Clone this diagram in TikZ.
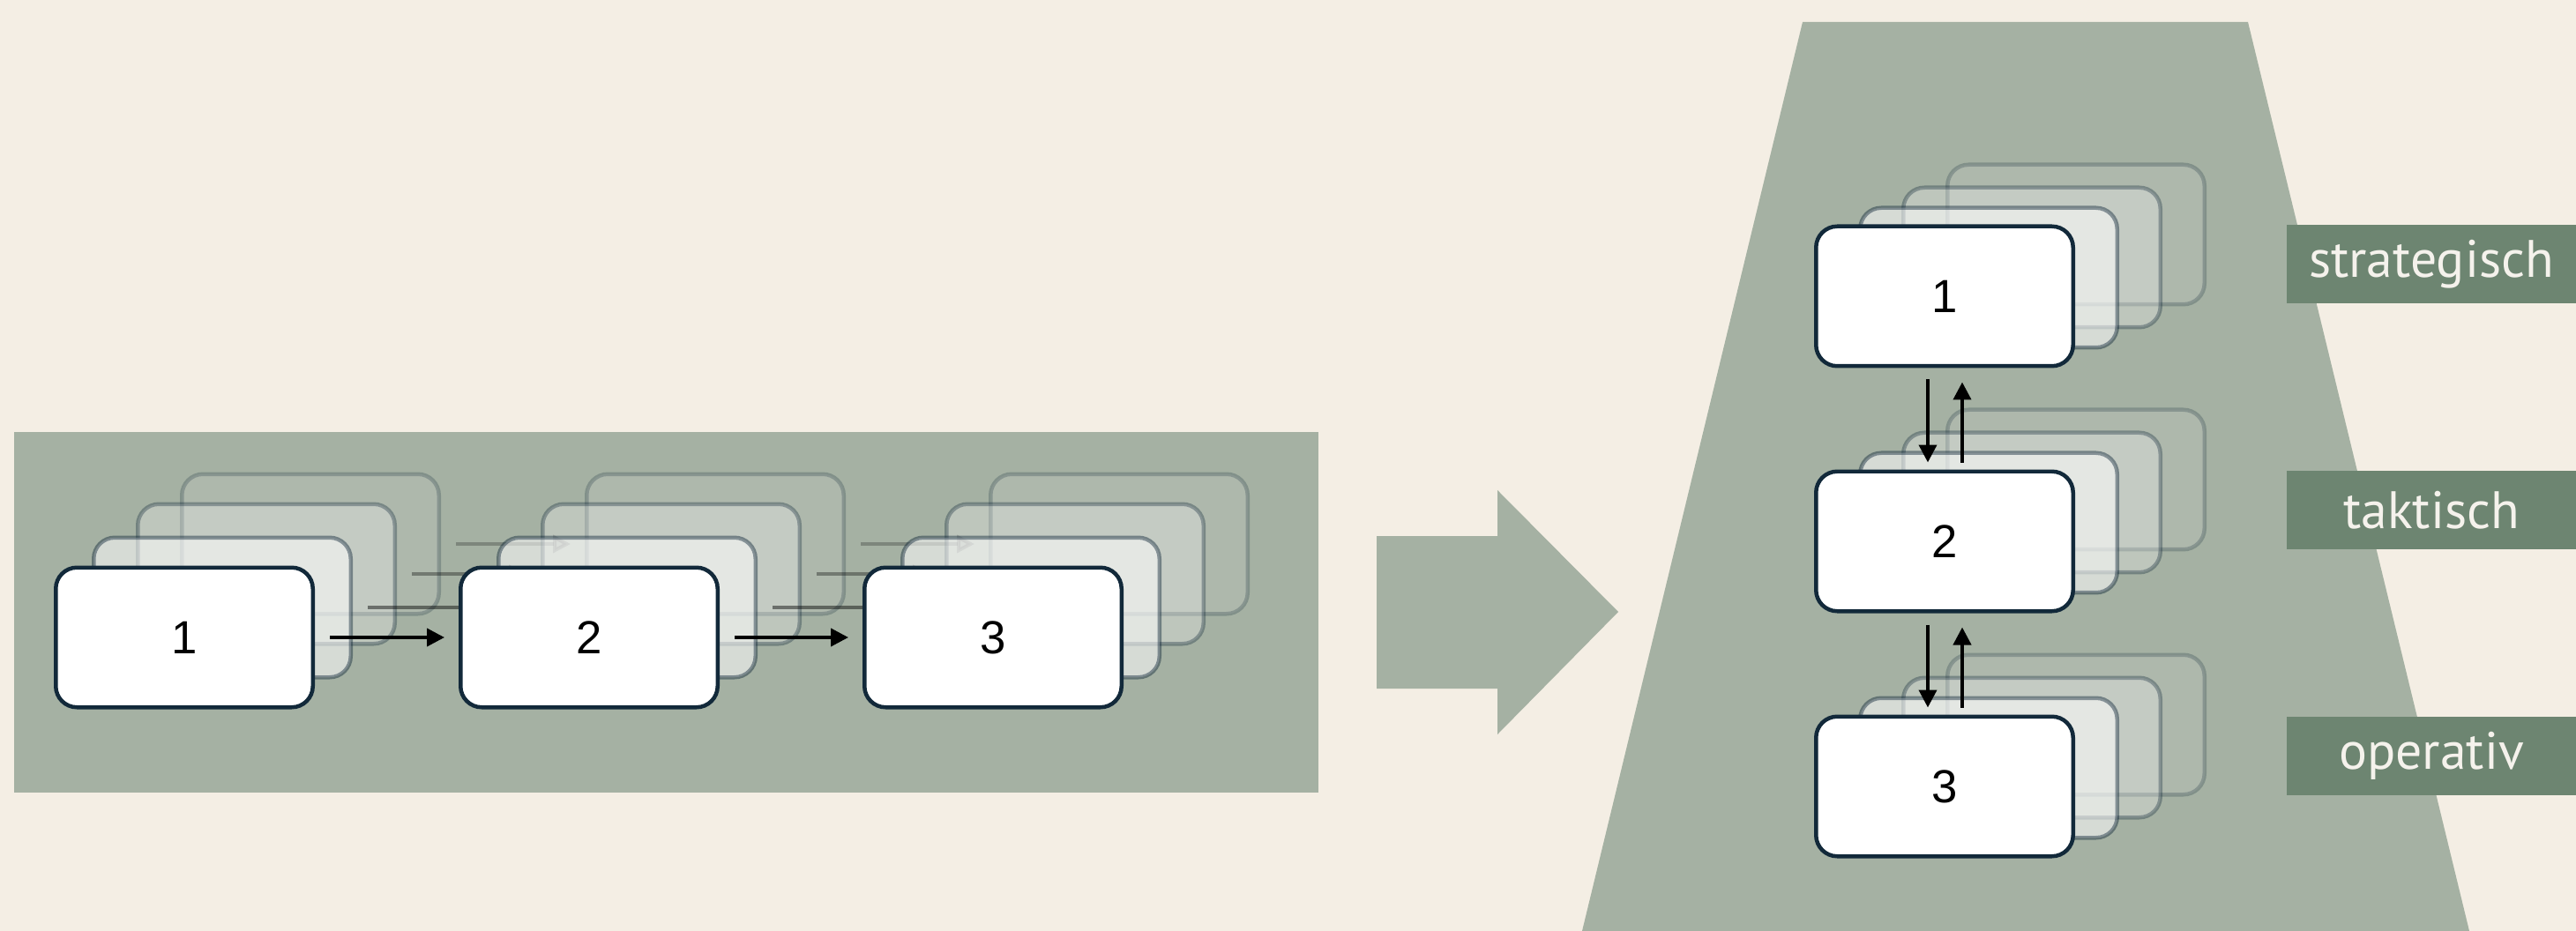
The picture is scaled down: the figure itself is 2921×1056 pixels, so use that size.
\documentclass[tikz,border=0pt]{standalone}
\usepackage{fontspec}
\setmainfont{Liberation Sans}
\newfontfamily\tagfont{PT Sans}
\definecolor{mCream}{HTML}{F4EEE4}
\definecolor{mSage}{HTML}{A5B1A3}
\definecolor{mMoss}{HTML}{6D8571}
\definecolor{mNavy}{HTML}{12293A}
\definecolor{mSnow}{HTML}{F5F2EC}
\usetikzlibrary{arrows.meta, positioning}

\begin{document}
\begin{tikzpicture}[x=0.1mm, y=-0.1mm,
    card/.style={draw=mNavy, fill=white, line width=0.45mm, rounded corners=2.4mm,
      minimum width=29.15mm, minimum height=15.85mm, inner sep=0pt,
      font=\fontsize{15}{18}\selectfont},
    flow/.style={-{Triangle[length=2mm, width=2mm]}, line width=0.4mm, black},
    tag/.style={fill=mMoss, text=mSnow, minimum width=32.8mm, minimum height=8.9mm,
      inner sep=0pt, font=\tagfont\fontsize{17}{20}\selectfont}]
  \useasboundingbox (0,0) rectangle (2921,1056);
  \fill[mCream] (0,0) rectangle (2921,1056);

  % left: sequential chain, stacked
  \fill[mSage] (16,490) rectangle (1495,899);
  \foreach \dx/\dy/\fo/\do in {143/-106/0.10/0.24, 93/-72/0.28/0.34, 43/-34/0.55/0.45} {
    \begin{scope}[shift={(\dx,\dy)}, fill opacity=\fo, draw opacity=\do]
      \node[card] (g1) at (209,723) {};
      \node[card] (g2) at (668,723) {};
      \node[card] (g3) at (1126,723) {};
      \draw[flow, shorten <=1.7mm, shorten >=1.6mm] (g1) -- (g2);
      \draw[flow, shorten <=1.7mm, shorten >=1.6mm] (g2) -- (g3);
    \end{scope}
  }
  \node[card] (l1) at (209,723) {1};
  \node[card] (l2) at (668,723) {2};
  \node[card] (l3) at (1126,723) {3};
  \draw[flow, shorten <=1.7mm, shorten >=1.6mm] (l1) -- (l2);
  \draw[flow, shorten <=1.7mm, shorten >=1.6mm] (l2) -- (l3);

  % block arrow
  \fill[mSage] (1561,608) -- (1698,608) -- (1698,556) -- (1835,694)
    -- (1698,833) -- (1698,781) -- (1561,781) -- cycle;

  % right: levels
  \fill[mSage] (2044,25) -- (2549,25) -- (2800,1056) -- (1794,1056) -- cycle;
  \foreach \dx/\dy/\fo/\do in {149/-70/0.10/0.24, 99/-44/0.28/0.34, 50/-21/0.55/0.45} {
    \begin{scope}[shift={(\dx,\dy)}, fill opacity=\fo, draw opacity=\do]
      \foreach \k/\y in {1/336, 2/614, 3/892}
        \node[card] (h\k) at (2205,\y) {};
    \end{scope}
  }
  \node[card] (r1) at (2205,336) {1};
  \node[card] (r2) at (2205,614) {2};
  \node[card] (r3) at (2205,892) {3};
  \draw[flow, shorten <=1.3mm, shorten >=0.8mm] ([xshift=-1.9mm]r1.south) -- ([xshift=-1.9mm]r2.north);
  \draw[flow, shorten <=0.8mm, shorten >=1.6mm] ([xshift=2mm]r2.north) -- ([xshift=2mm]r1.south);
  \draw[flow, shorten <=1.3mm, shorten >=0.8mm] ([xshift=-1.9mm]r2.south) -- ([xshift=-1.9mm]r3.north);
  \draw[flow, shorten <=0.8mm, shorten >=1.6mm] ([xshift=2mm]r3.north) -- ([xshift=2mm]r2.south);

  \node[tag] (strat) at (2757,300) {strategisch};
  \node[tag] (takt) at (2757,579) {taktisch};
  \node[tag] (oper) at (2757,857) {operativ};
\end{tikzpicture}
\end{document}
